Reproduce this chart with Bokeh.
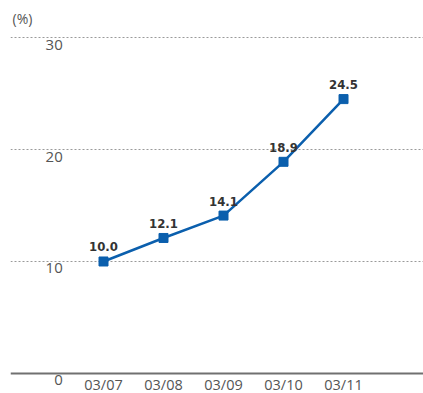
from bokeh.plotting import figure
from bokeh.models import ColumnDataSource, FixedTicker, Span, Label, Range1d
from bokeh.core.properties import value
from bokeh.embed import file_html
from bokeh.resources import INLINE

# Fiscal periods and ratio values (%)
periods = ["03/07", "03/08", "03/09", "03/10", "03/11"]
ratios = [10.0, 12.1, 14.1, 18.9, 24.5]
y_ticks = [0, 10, 20, 30]
grid_ticks = [10, 20, 30]

x_idx = list(range(len(periods)))
src = ColumnDataSource(dict(
    x=x_idx,
    y=ratios,
    lbl=[f"{v:.1f}" for v in ratios],
    period=periods,
    zero=[0] * len(periods),
))

p = figure(
    width=423, height=393,
    output_backend="svg", toolbar_location=None,
    x_range=Range1d(-1.55, 5.333), y_range=Range1d(-1.786, 33.304),
    x_axis_location=None, y_axis_location=None,
    min_border_left=10, min_border_right=0, min_border_top=0, min_border_bottom=0,
)
p.outline_line_color = None
p.background_fill_color = "white"
p.border_fill_color = "white"

# Only dotted horizontal lines at 10, 20, 30
p.xgrid.grid_line_color = None
p.ygrid.ticker = FixedTicker(ticks=grid_ticks)
p.ygrid.grid_line_color = "#9a9a9a"
p.ygrid.grid_line_dash = "2 2"
p.ygrid.grid_line_width = 1

# Solid baseline at zero
p.add_layout(Span(location=0, dimension="width", line_color="#707070", line_width=2))

# Y tick labels sit just under each line
ysrc = ColumnDataSource(dict(y=y_ticks, t=[str(v) for v in y_ticks], x=[-0.68] * len(y_ticks)))
p.text(x="x", y="y", text="t", source=ysrc, text_align="right", text_baseline="top",
       y_offset=2, text_font=value("Open Sans"), text_font_size="15px", text_color="#555555")

# Period labels under the baseline
p.text(x="x", y="zero", text="period", source=src, text_align="center", text_baseline="top",
       y_offset=2, text_font=value("Open Sans"), text_font_size="14.5px", text_color="#555555")

# Series line and square markers
p.line("x", "y", source=src, line_color="#0b5fad", line_width=2.5)
p.scatter("x", "y", source=src, marker="square", size=9,
          fill_color="#0b5fad", line_color="#0b5fad")

# Value labels above the markers
p.text(x="x", y="y", text="lbl", source=src, text_align="center", text_baseline="bottom",
       y_offset=-10, text_font=value("DejaVu Sans Condensed"),
       text_font_style="bold", text_font_size="13px", text_color="#333333")

# Unit caption
p.add_layout(Label(x=2, y=375, x_units="screen", y_units="screen", text="(%)",
                   text_baseline="middle", text_font="Open Sans", text_font_size="14px",
                   text_color="#555555"))

open("out.html", "w").write(file_html(p, INLINE))
